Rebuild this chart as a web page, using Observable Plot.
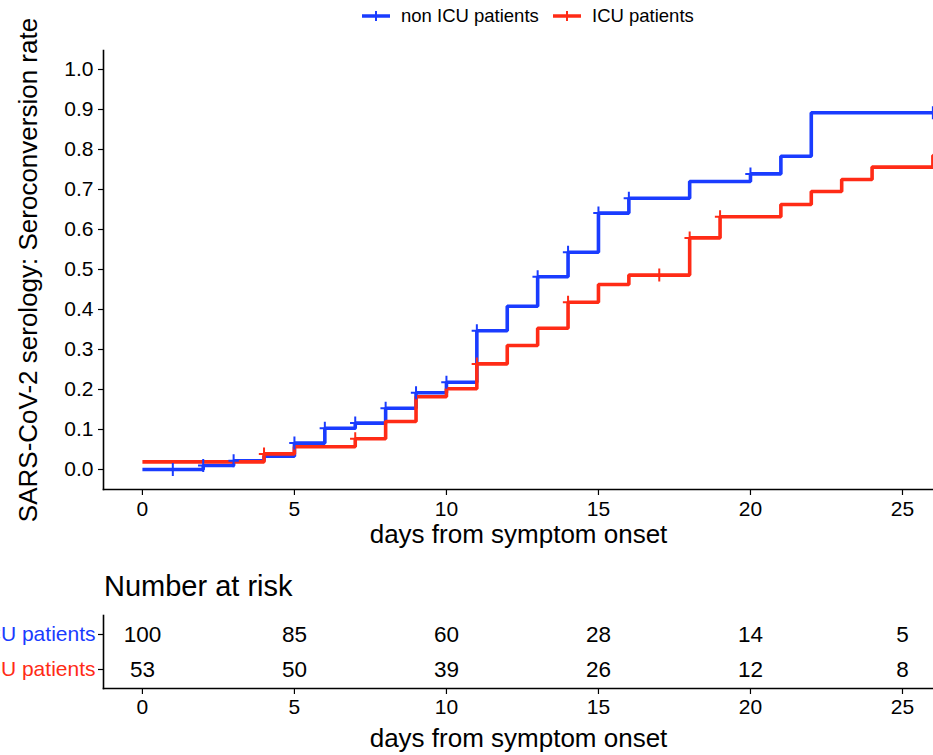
<!DOCTYPE html>
<html>
<head>
<meta charset="utf-8">
<script src="https://cdn.jsdelivr.net/npm/d3@7"></script>
<script src="https://cdn.jsdelivr.net/npm/@observablehq/plot@0.6"></script>
<style>
  body { margin: 0; background: #fff; font-family: "Liberation Sans", Arial, Helvetica, sans-serif; }
  #wrap { position: relative; width: 933px; height: 755px; overflow: hidden; background: #fff; }
  .abs { position: absolute; }
  .legtext { font-size: 18.5px; line-height: 20px; color: #000; white-space: nowrap; z-index: 2; }
</style>
</head>
<body>
<div id="wrap"></div>
<script>
// ---------- data ----------
const groups = ["non ICU patients", "ICU patients"];
const groupColors = ["#1a3cff", "#ff2b16"];

const nonIcuTime = [0, 2, 3, 4, 5, 6, 7, 8, 9, 10, 11, 12, 13, 14, 15, 16, 18, 20, 21, 22, 27];
const nonIcuRate = [0, 0.01, 0.022, 0.033, 0.066, 0.103, 0.116, 0.153, 0.192, 0.218, 0.347, 0.408, 0.482, 0.543, 0.641, 0.678, 0.72, 0.739, 0.783, 0.892, 0.892];
const nonIcuCensor = [1, 2, 3, 5, 6, 7, 8, 9, 10, 11, 13, 14, 15, 16, 20, 26];

const icuTime = [0, 4, 5, 7, 8, 9, 10, 11, 12, 13, 14, 15, 16, 18, 19, 21, 22, 23, 24, 26, 27];
const icuRate = [0.019, 0.039, 0.057, 0.077, 0.12, 0.182, 0.202, 0.264, 0.31, 0.353, 0.418, 0.4625, 0.486, 0.579, 0.632, 0.6625, 0.695, 0.725, 0.756, 0.785, 0.785];
const icuCensor = [4, 7, 11, 14, 17, 18, 19];

const riskTimes = [0, 5, 10, 15, 20, 25];
const riskNonIcu = [100, 85, 60, 28, 14, 5];
const riskIcu = [53, 50, 39, 26, 12, 8];

const xTicks = [0, 5, 10, 15, 20, 25];
const yTicks = [0, 0.1, 0.2, 0.3, 0.4, 0.5, 0.6, 0.7, 0.8, 0.9, 1.0];

const xTitle = "days from symptom onset";
const yTitle = "SARS-CoV-2 serology: Seroconversion rate";
const tableTitle = "Number at risk";

// ---------- tables built from the arrays ----------
const curveRows = [
  ...nonIcuTime.map((t, i) => ({group: groups[0], time: t, rate: nonIcuRate[i]})),
  ...icuTime.map((t, i) => ({group: groups[1], time: t, rate: icuRate[i]}))
];
function stepValue(times, rates, t) {
  let v = rates[0];
  for (let i = 0; i < times.length; i++) if (times[i] <= t) v = rates[i];
  return v;
}
const censorRows = [
  ...nonIcuCensor.map(t => ({group: groups[0], time: t, rate: stepValue(nonIcuTime, nonIcuRate, t)})),
  ...icuCensor.map(t => ({group: groups[1], time: t, rate: stepValue(icuTime, icuRate, t)}))
];
const riskRows = [
  ...riskTimes.map((t, i) => ({group: groups[0], time: t, n: riskNonIcu[i]})),
  ...riskTimes.map((t, i) => ({group: groups[1], time: t, n: riskIcu[i]}))
];

const font = '"Liberation Sans", Arial, Helvetica, sans-serif';
const xDomain = [-1.28, 26.02];
const yDomain = [-0.05, 1.0475];

const thinPlus = {
  draw(ctx, size) {
    const r = Math.sqrt(size / Math.PI);
    ctx.moveTo(-r * 0.8, 0); ctx.lineTo(r * 0.8, 0);
    ctx.moveTo(0, -r); ctx.lineTo(0, r);
  }
};

const wrap = document.getElementById("wrap");

// ---------- main KM plot ----------
const main = Plot.plot({
  width: 933, height: 555,
  marginTop: 50, marginBottom: 66, marginLeft: 103, marginRight: 0,
  style: {fontFamily: font, color: "#000", background: "transparent", overflow: "visible"},
  x: {domain: xDomain, label: null},
  y: {domain: yDomain, label: null},
  color: {domain: groups, range: groupColors},
  marks: [
    Plot.axisX({ticks: xTicks, tickSize: 6, tickPadding: 6, fontSize: 21, label: null, strokeWidth: 1.2}),
    Plot.axisY({ticks: yTicks, tickFormat: d3.format(".1f"), tickSize: 5, tickPadding: 5, fontSize: 21, label: null, strokeWidth: 1.2}),
    Plot.frame({anchor: "left", stroke: "#000", strokeWidth: 1.6}),
    Plot.frame({anchor: "bottom", stroke: "#000", strokeWidth: 1.6}),
    Plot.line(curveRows, {x: "time", y: "rate", z: "group", stroke: "group", curve: "step-after",
      strokeWidth: 3.6, strokeLinejoin: "miter", strokeLinecap: "butt", clip: true}),
    Plot.dot(censorRows, {x: "time", y: "rate", stroke: "group", symbol: thinPlus, r: 6.5,
      fill: "none", strokeWidth: 2, clip: true}),
    Plot.text([yTitle], {text: d => d, frameAnchor: "left", textAnchor: "middle", dx: -75, rotate: -90, fontSize: 26, fill: "#000"}),
    Plot.text([xTitle], {text: d => d, frameAnchor: "bottom", dy: 53, fontSize: 26, fill: "#000"})
  ]
});
main.classList.add("abs");
main.style.left = "0px"; main.style.top = "0px";
wrap.appendChild(main);

// ---------- legend ----------
function legendItem(color, label, swatchLeft, textLeft) {
  const sw = document.createElementNS("http://www.w3.org/2000/svg", "svg");
  sw.setAttribute("width", 32); sw.setAttribute("height", 20);
  sw.setAttribute("class", "abs");
  sw.style.left = swatchLeft + "px"; sw.style.top = "6px";
  sw.innerHTML = `<line x1="1" x2="29" y1="10" y2="10" stroke="${color}" stroke-width="3.5"/>` +
                 `<line x1="15" x2="15" y1="5" y2="15" stroke="${color}" stroke-width="2"/>`;
  wrap.appendChild(sw);
  const tx = document.createElement("div");
  tx.className = "abs legtext";
  tx.style.left = textLeft + "px"; tx.style.top = "6px";
  tx.textContent = label;
  wrap.appendChild(tx);
}
legendItem(groupColors[0], groups[0], 361, 401);
legendItem(groupColors[1], groups[1], 552, 592);

// ---------- "Number at risk" title ----------
const tt = document.createElement("div");
tt.className = "abs";
tt.style.left = "104px"; tt.style.top = "571px";
tt.style.fontSize = "29px"; tt.style.lineHeight = "30px"; tt.style.color = "#000";
tt.textContent = tableTitle;
wrap.appendChild(tt);

// ---------- risk table ----------
const table = Plot.plot({
  width: 933, height: 150,
  marginTop: 10, marginBottom: 67, marginLeft: 103, marginRight: 0,
  style: {fontFamily: font, color: "#000", background: "transparent"},
  x: {domain: xDomain, label: null},
  y: {type: "point", domain: groups, padding: 0.52, label: null},
  color: {domain: groups, range: groupColors},
  marks: [
    Plot.axisX({ticks: xTicks, tickSize: 6, tickPadding: 5, fontSize: 21, label: null, strokeWidth: 1.2}),
    Plot.axisY({tickSize: 5, tickFormat: () => null, label: null, strokeWidth: 1.2}),
    Plot.frame({anchor: "left", stroke: "#000", strokeWidth: 1.6}),
    Plot.frame({anchor: "bottom", stroke: "#000", strokeWidth: 1.6}),
    Plot.text(groups, {text: d => d, y: d => d, frameAnchor: "left", textAnchor: "end", dx: -8, fontSize: 21, fill: d => d}),
    Plot.text(riskRows, {x: "time", y: "group", text: "n", fontSize: 22.5, fill: "#000"}),
    Plot.text([xTitle], {text: d => d, frameAnchor: "bottom", dy: 58, fontSize: 26, fill: "#000"})
  ]
});
table.classList.add("abs");
table.style.left = "0px"; table.style.top = "605px";
wrap.appendChild(table);
</script>
</body>
</html>
